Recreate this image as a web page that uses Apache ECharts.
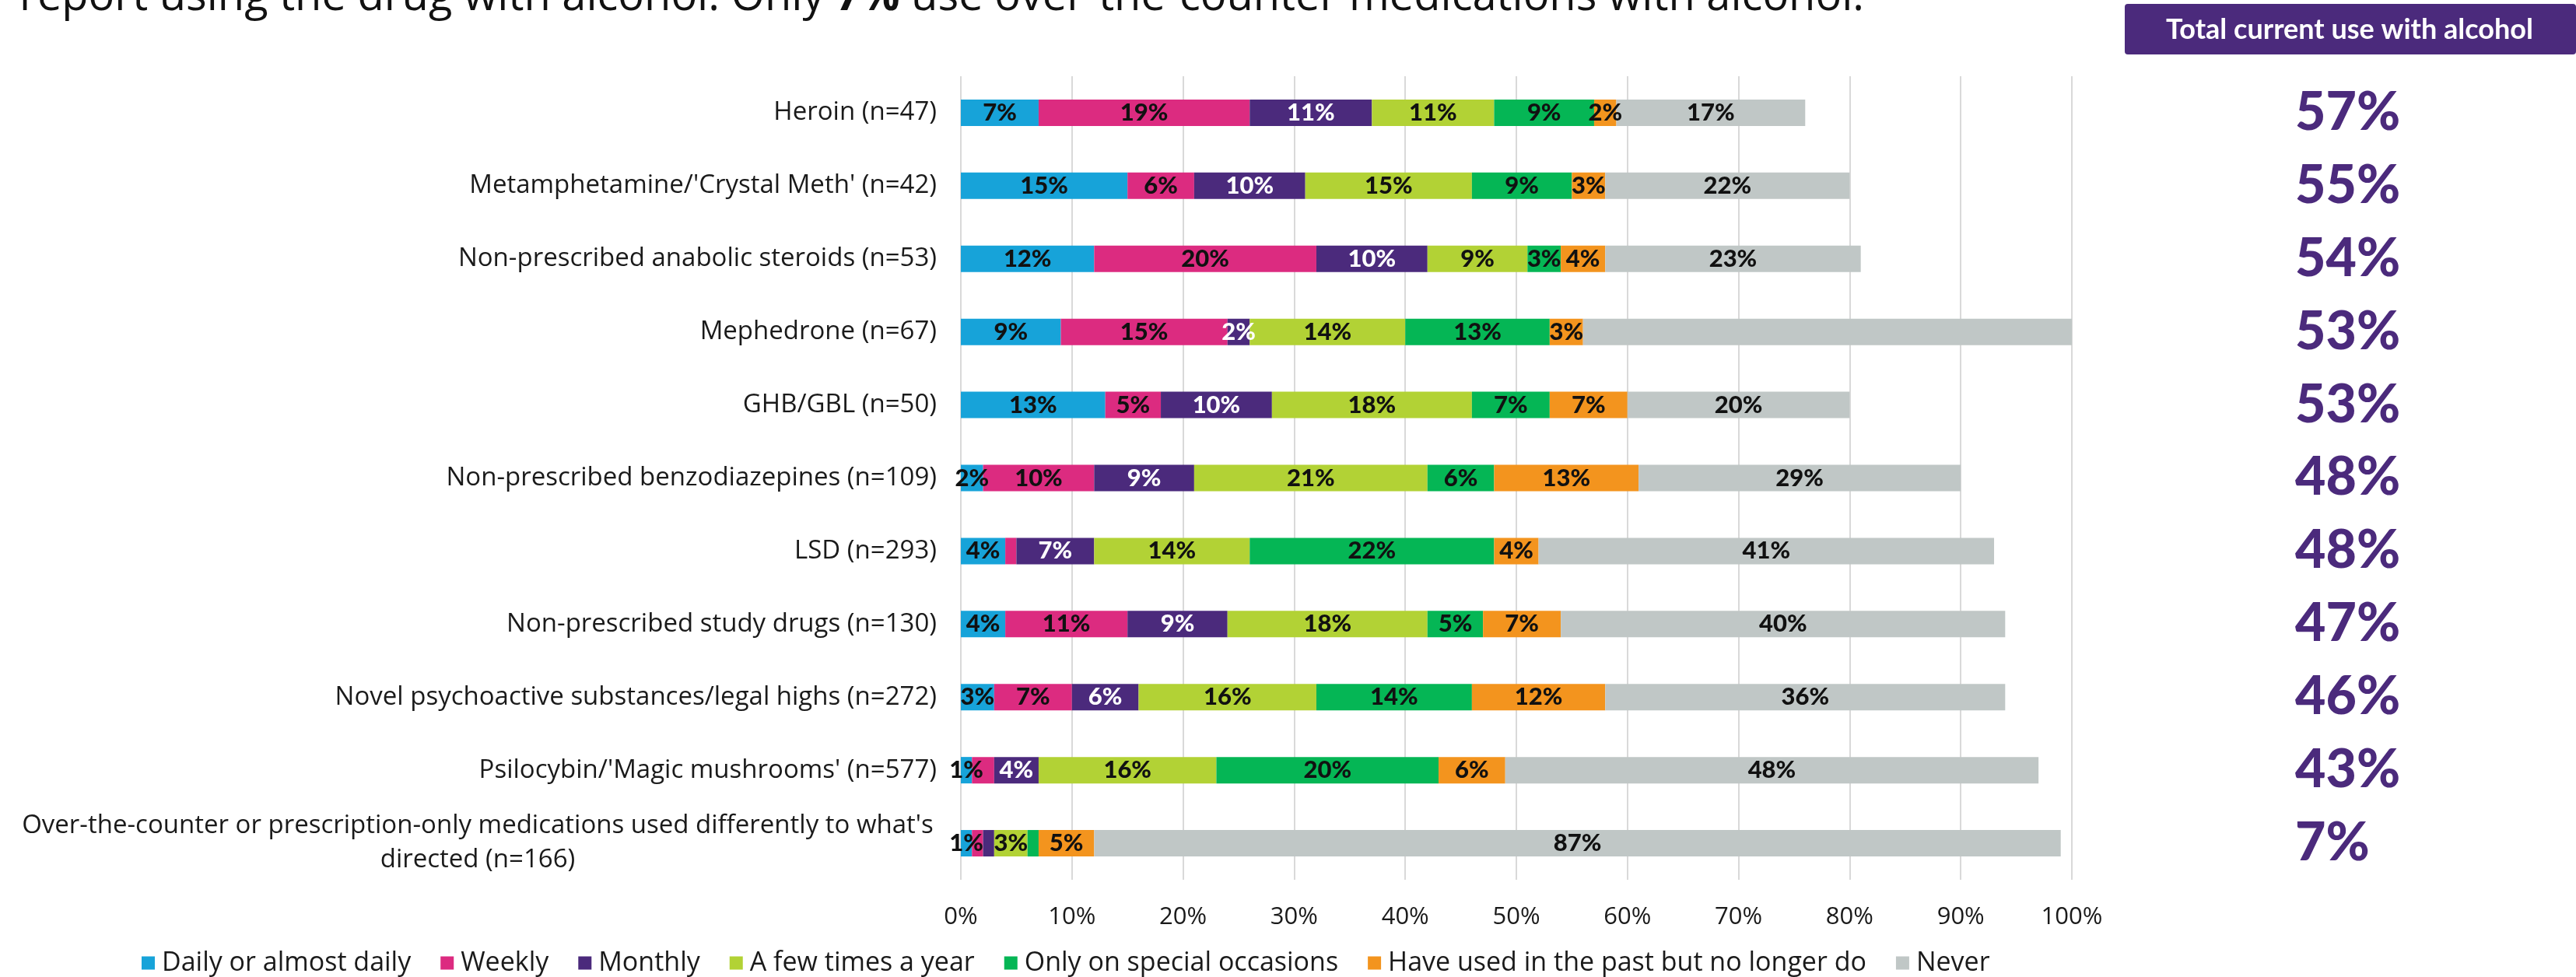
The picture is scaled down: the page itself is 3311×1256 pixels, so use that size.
<!DOCTYPE html>
<html>
<head>
<meta charset="utf-8">
<script src="https://cdn.jsdelivr.net/npm/echarts@6/dist/echarts.min.js"></script>
<style>
  html, body { margin: 0; padding: 0; background: #fff; }
  #chart { width: 3311px; height: 1256px; }
</style>
</head>
<body>
<div id="chart"></div>
<script>
// categories, top to bottom
var categories = [
  'Heroin (n=47)',
  'Metamphetamine/\'Crystal Meth\' (n=42)',
  'Non-prescribed anabolic steroids (n=53)',
  'Mephedrone (n=67)',
  'GHB/GBL (n=50)',
  'Non-prescribed benzodiazepines (n=109)',
  'LSD (n=293)',
  'Non-prescribed study drugs (n=130)',
  'Novel psychoactive substances/legal highs (n=272)',
  'Psilocybin/\'Magic mushrooms\' (n=577)',
  'Over-the-counter or prescription-only medications used differently to what\'s\ndirected (n=166)'
]

var seriesNames = ['Daily or almost daily', 'Weekly', 'Monthly', 'A few times a year',
  'Only on special occasions', 'Have used in the past but no longer do', 'Never']

var daily = [7, 15, 12, 9, 13, 2, 4, 4, 3, 1, 1]
var weekly = [19, 6, 20, 15, 5, 10, 1, 11, 7, 2, 1]
var monthly = [11, 10, 10, 2, 10, 9, 7, 9, 6, 4, 1]
var fewTimes = [11, 15, 9, 14, 18, 21, 14, 18, 16, 16, 3]
var special = [9, 9, 3, 13, 7, 6, 22, 5, 14, 20, 1]
var past = [2, 3, 4, 3, 7, 13, 4, 7, 12, 6, 5]
var never = [17, 22, 23, 44, 20, 29, 41, 40, 36, 48, 87]

// total current use with alcohol (right column)
var totals = ['57%', '55%', '54%', '53%', '53%', '48%', '48%', '47%', '46%', '43%', '7%']

var xTicks = [0, 10, 20, 30, 40, 50, 60, 70, 80, 90, 100]

// data labels the original leaves out (series index -> category indexes)
var hiddenLabels = { 1: [6, 9, 10], 2: [10], 4: [10], 6: [3] }

var colors = ['#17a3d9', '#dc2b80', '#4b2a7c', '#b2d235', '#05b655', '#f3941e', '#c0c7c6']

var allData = [daily, weekly, monthly, fewTimes, special, past, never]

var FONT = '"Open Sans", Lato, sans-serif'
var BOLD = 'Lato, "Open Sans", sans-serif'

var chart = echarts.init(document.getElementById('chart'))

var series = allData.map(function (arr, si) {
  var hide = hiddenLabels[si] || []
  return {
    name: seriesNames[si],
    type: 'bar',
    stack: 'total',
    barWidth: 34,
    itemStyle: { color: colors[si] },
    label: {
      show: true,
      position: 'inside',
      formatter: '{c}%',
      fontFamily: BOLD,
      fontWeight: 900,
      fontSize: 31,
      color: si === 2 ? '#ffffff' : '#111111'
    },
    emphasis: { disabled: true },
    data: arr.map(function (v, ci) {
      if (hide.indexOf(ci) >= 0) {
        return { value: v, label: { show: false } }
      }
      return v
    })
  }
})

var option = {
  animation: false,
  backgroundColor: '#ffffff',
  grid: {
    left: 1235,
    right: 648,
    top: 98,
    bottom: 125
  },
  legend: {
    data: seriesNames,
    left: 177,
    top: 1216,
    icon: 'rect',
    itemWidth: 17,
    itemHeight: 17,
    itemGap: 38,
    textStyle: { fontFamily: FONT, fontSize: 34, color: '#1a1a1a', padding: [0, 0, 0, 4] }
  },
  xAxis: {
    type: 'value',
    min: 0,
    max: 100,
    interval: 10,
    axisLine: { show: false },
    axisTick: { show: false },
    splitLine: { lineStyle: { color: '#d9d9d9', width: 2 } },
    axisLabel: {
      formatter: function (v) { return xTicks.indexOf(v) >= 0 ? v + '%' : '' },
      fontFamily: FONT,
      fontSize: 31,
      color: '#1a1a1a',
      margin: 33
    }
  },
  yAxis: [
    {
      type: 'category',
      inverse: true,
      data: categories,
      axisLine: { show: false },
      axisTick: { show: false },
      axisLabel: {
        margin: 31,
        fontFamily: FONT,
        fontSize: 33,
        color: '#1a1a1a',
        formatter: function (v) {
          if (v.indexOf('\n') < 0) return v
          return v.split('\n').map(function (s) { return '{c|' + s + '}' }).join('\n')
        },
        rich: {
          c: { width: 1180, align: 'center', fontFamily: FONT, fontSize: 33, color: '#1a1a1a', lineHeight: 44 }
        }
      }
    },
    {
      type: 'category',
      inverse: true,
      position: 'right',
      data: totals,
      axisLine: { show: false },
      axisTick: { show: false },
      splitLine: { show: false },
      axisLabel: {
        align: 'left',
        margin: 287,
        fontFamily: BOLD,
        fontWeight: 900,
        fontSize: 68,
        color: '#4b2a7c'
      }
    }
  ],
  graphic: [
    {
      type: 'text',
      x: 25,
      y: -3,
      style: {
        text: 'report using the drug with alcohol. Only {b|7%} use over-the-counter medications with alcohol.',
        verticalAlign: 'middle',
        fontFamily: FONT,
        fontSize: 56,
        fill: '#111111',
        rich: {
          b: { fontFamily: FONT, fontSize: 56, fontWeight: 'bold', fill: '#111111' }
        }
      }
    },
    {
      type: 'rect',
      shape: { x: 2731, y: 5, width: 580, height: 65, r: 4 },
      style: { fill: '#4b2a7c' }
    },
    {
      type: 'text',
      x: 3020,
      y: 38,
      style: {
        text: 'Total current use with alcohol',
        align: 'center',
        verticalAlign: 'middle',
        fontFamily: BOLD,
        fontWeight: 'bold',
        fontSize: 36,
        fill: '#ffffff'
      }
    }
  ],
  series: series
}

chart.setOption(option)
</script>
</body>
</html>
